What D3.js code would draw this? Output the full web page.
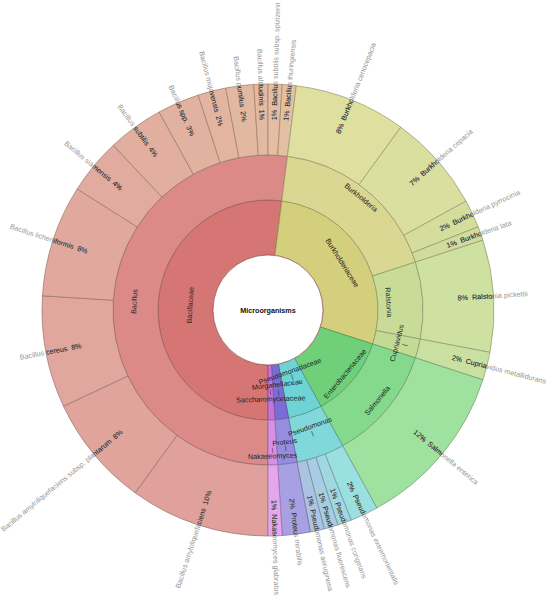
<!DOCTYPE html>
<html>
<head>
<meta charset="utf-8">
<script src="https://cdn.jsdelivr.net/npm/d3@7"></script>
<style>
  body { margin: 0; background: #fff; }
  svg { display: block; font-family: "Liberation Sans", Arial, sans-serif; }
</style>
</head>
<body>
<svg id="chart" width="550" height="597"></svg>
<script>
// data (percent of all isolates)
const rootName = 'Microorganisms';
const families = ['Bacillaceae', 'Burkholderiaceae', 'Enterobacteriaceae', 'Pseudomonadaceae', 'Morganellaceae', 'Saccharomycetaceae'];
const genera = ['Bacillus', 'Burkholderia', 'Ralstonia', 'Cupriavidus', 'Salmonella', 'Pseudomonas', 'Proteus', 'Nakaseomyces'];
const genusFamily = ['Bacillaceae', 'Burkholderiaceae', 'Burkholderiaceae', 'Burkholderiaceae', 'Enterobacteriaceae', 'Pseudomonadaceae', 'Morganellaceae', 'Saccharomycetaceae'];
const species = [
    'Bacillus amyloliquefaciens', 'Bacillus amyloliquefaciens subsp. plantarum', 'Bacillus cereus',
    'Bacillus licheniformis', 'Bacillus siamensis', 'Bacillus subtilis', 'Bacillus spp.',
    'Bacillus mojavensis', 'Bacillus pumilus', 'Bacillus altitudinis',
    'Bacillus subtilis subsp. spizizenii', 'Bacillus thuringiensis',
    'Burkholderia cenocepacia', 'Burkholderia cepacia', 'Burkholderia pyrrocinia', 'Burkholderia lata',
    'Ralstonia pickettii', 'Cupriavidus metallidurans', 'Salmonella enterica',
    'Pseudomonas extremorientalis', 'Pseudomonas congelans', 'Pseudomonas fluorescens', 'Pseudomonas aeruginosa',
    'Proteus mirabilis', 'Nakaseomyces glabratus'
];
const speciesGenus = [
    'Bacillus', 'Bacillus', 'Bacillus', 'Bacillus', 'Bacillus', 'Bacillus', 'Bacillus',
    'Bacillus', 'Bacillus', 'Bacillus', 'Bacillus', 'Bacillus',
    'Burkholderia', 'Burkholderia', 'Burkholderia', 'Burkholderia',
    'Ralstonia', 'Cupriavidus', 'Salmonella',
    'Pseudomonas', 'Pseudomonas', 'Pseudomonas', 'Pseudomonas',
    'Proteus', 'Nakaseomyces'
];
const speciesPct = [10, 8, 8, 8, 4, 4, 3, 2, 2, 1, 1, 1, 8, 7, 2, 1, 8, 2, 12, 2, 1, 1, 1, 2, 1];

// colours
const familyColor = {
    Bacillaceae: '#d57674', Burkholderiaceae: '#d4cf7d', Enterobacteriaceae: '#70d07a',
    Pseudomonadaceae: '#6dd3d4', Morganellaceae: '#7b6dd8', Saccharomycetaceae: '#c774d9'
};
const genusColor = {
    Bacillus: '#dc8a88', Burkholderia: '#d9d792', Ralstonia: '#c9dc97', Cupriavidus: '#c3da95',
    Salmonella: '#84d98c', Pseudomonas: '#80d8da', Proteus: '#978ddf', Nakaseomyces: '#d790e3'
};
const speciesColor = {
    Bacillus: ['#e0a19d', '#e4c0a2'], Burkholderia: ['#dfdf9f', '#d0dc9c'],
    Ralstonia: ['#cfe1a1', '#cfe1a1'], Cupriavidus: ['#c9e0a1', '#c9e0a1'],
    Salmonella: ['#9fe29f', '#9fe29f'], Pseudomonas: ['#9be0e0', '#abc4e4'],
    Proteus: ['#a7a0e3', '#a7a0e3'], Nakaseomyces: ['#e3a7ea', '#e3a7ea']
};

// where krona put the inner labels (radius, optional "|" marker radius)
const innerLabel = {
    Bacillaceae: {r: 78}, Burkholderiaceae: {r: 88}, Enterobacteriaceae: {r: 100},
    Pseudomonadaceae: {r: 65, bar: 71}, Morganellaceae: {r: 75, bar: 83}, Saccharomycetaceae: {r: 89, bar: 82},
    Bacillus: {r: 134}, Burkholderia: {r: 146}, Ralstonia: {r: 121}, Cupriavidus: {r: 133, bar: 141},
    Salmonella: {r: 142}, Pseudomonas: {r: 124, bar: 131}, Proteus: {r: 133, bar: 139}, Nakaseomyces: {r: 146, bar: 140}
};

const cx = 268, cy = 310;
const outerR = 226;
const svg = d3.select('#chart');
const g = svg.append('g').attr('transform', `translate(${cx},${cy})`);

let tree = {
    name: rootName,
    children: families.map(f => ({
        name: f,
        children: genera.filter((gn, i) => genusFamily[i] === f).map(gn => ({
            name: gn,
            children: species.map((s, i) => ({name: s, value: speciesPct[i], genus: speciesGenus[i]}))
                .filter(d => d.genus === gn)
        }))
    }))
};

let root = d3.hierarchy(tree).sum(d => d.value || 0);
d3.partition().size([2 * Math.PI, 4])(root);

let radius = d3.scaleLinear().domain([0, 1, 2, 3, 4]).range([0, 55, 110, 155, outerR]);
const offset = Math.PI; // largest family starts at six o'clock

let arc = d3.arc()
    .startAngle(d => d.x0 + offset)
    .endAngle(d => d.x1 + offset)
    .innerRadius(d => radius(d.y0))
    .outerRadius(d => radius(d.y1));

function fillOf(d) {
    if (d.depth === 1) return familyColor[d.data.name];
    if (d.depth === 2) return genusColor[d.data.name];
    let sibs = d.parent.children;
    let k = sibs.indexOf(d);
    let range = speciesColor[d.parent.data.name];
    let t = sibs.length > 1 ? k / (sibs.length - 1) : 0;
    return d3.interpolateRgb(range[0], range[1])(t);
}

let nodes = root.descendants().filter(d => d.depth > 0);

g.selectAll('path.node')
    .data(nodes)
    .join('path')
    .attr('class', 'node')
    .attr('d', arc)
    .attr('fill', fillOf)
    .attr('stroke', d => d3.color(fillOf(d)).darker(1.1))
    .attr('stroke-width', 0.7);

// white centre
g.append('circle').attr('r', radius(1)).attr('fill', '#fff')
    .attr('stroke', d3.color(familyColor.Bacillaceae).darker(1.1)).attr('stroke-width', 0.7);

g.append('text')
    .attr('text-anchor', 'middle')
    .attr('dominant-baseline', 'central')
    .attr('font-size', 7.2)
    .attr('font-weight', 'bold')
    .attr('fill', '#111')
    .text(rootName);

function midDeg(d) {
    let a = (d.x0 + d.x1) / 2 + offset;
    return (a * 180 / Math.PI) % 360;
}

function polar(deg, r) {
    let a = deg * Math.PI / 180;
    return [r * Math.sin(a), -r * Math.cos(a)];
}

// inner rings: tangential labels
let inner = nodes.filter(d => d.depth < 3);
inner.forEach(d => {
    let a = midDeg(d);
    let rot = (a > 90 && a < 270) ? a - 180 : a;
    let opt = innerLabel[d.data.name];
    let p = polar(a, opt.r);
    g.append('text')
        .attr('transform', `translate(${p[0]},${p[1]}) rotate(${rot})`)
        .attr('text-anchor', 'middle')
        .attr('dominant-baseline', 'central')
        .attr('font-size', 7.2)
        .attr('fill', '#222')
        .text(d.data.name);
    if (opt.bar) {
        let q = polar(a, opt.bar);
        g.append('text')
            .attr('transform', `translate(${q[0]},${q[1]}) rotate(${rot})`)
            .attr('text-anchor', 'middle')
            .attr('dominant-baseline', 'central')
            .attr('font-size', 6)
            .attr('fill', '#222')
            .text('|');
    }
});

// outer ring: radial labels, grey where they run past the edge
const labelStart = 190;
let leaves = root.leaves();

function drawLeafLabels(sel, colour) {
    sel.selectAll('text')
        .data(leaves)
        .join('text')
        .attr('transform', d => {
            let a = midDeg(d);
            return a < 180 ? `rotate(${a - 90}) translate(${labelStart},0)`
                           : `rotate(${a + 90}) translate(${-labelStart},0)`;
        })
        .attr('text-anchor', d => midDeg(d) < 180 ? 'start' : 'end')
        .attr('dominant-baseline', 'central')
        .attr('font-size', 7.2)
        .attr('fill', colour)
        .style('white-space', 'pre')
        .text(d => midDeg(d) < 180 ? `${d.value}%  ${d.data.name}` : `${d.data.name}  ${d.value}%`);
}

svg.append('defs').append('clipPath').attr('id', 'ringClip')
    .append('circle').attr('r', outerR);

drawLeafLabels(g.append('g'), '#959595');
drawLeafLabels(g.append('g').attr('clip-path', 'url(#ringClip)'), '#2a2a2a');
</script>
</body>
</html>
